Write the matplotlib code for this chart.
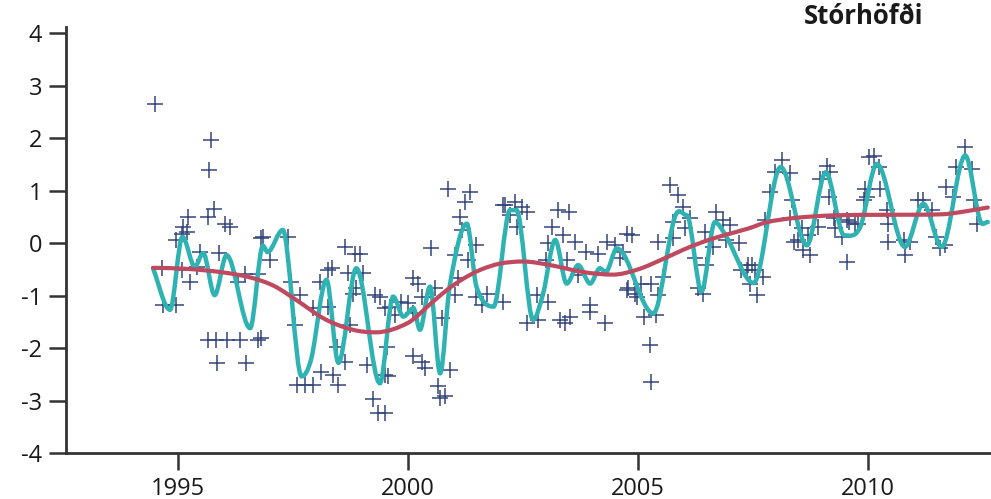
import matplotlib.pyplot as plt
import numpy as np
from matplotlib.path import Path
from matplotlib.patches import PathPatch

# monthly anomalies (+ markers)
ar = [1994.50, 1994.65, 1994.68, 1994.97, 1994.97, 1995.08, 1995.08, 1995.12, 1995.19, 1995.22,
      1995.26, 1995.41, 1995.48, 1995.66, 1995.66, 1995.67, 1995.73, 1995.78, 1995.84, 1995.85,
      1995.90, 1996.02, 1996.06, 1996.13, 1996.31, 1996.35, 1996.46, 1996.49, 1996.75, 1996.75,
      1996.81, 1996.81, 1996.85, 1997.00, 1997.40, 1997.47, 1997.54, 1997.58, 1997.65, 1997.76,
      1997.94, 1997.94, 1998.09, 1998.12, 1998.27, 1998.27, 1998.34, 1998.38, 1998.45, 1998.49,
      1998.63, 1998.63, 1998.70, 1998.74, 1998.81, 1998.85, 1998.88, 1998.96, 1999.03, 1999.10,
      1999.24, 1999.28, 1999.35, 1999.39, 1999.50, 1999.50, 1999.50, 1999.54, 1999.57, 1999.61,
      1999.72, 1999.86, 2000.01, 2000.12, 2000.12, 2000.12, 2000.22, 2000.30, 2000.30, 2000.37,
      2000.51, 2000.59, 2000.66, 2000.70, 2000.73, 2000.80, 2000.88, 2000.91, 2001.02, 2001.02,
      2001.09, 2001.13, 2001.17, 2001.24, 2001.31, 2001.35, 2001.49, 2001.49, 2001.60, 2001.71,
      2002.07, 2002.07, 2002.11, 2002.22, 2002.33, 2002.36, 2002.47, 2002.58, 2002.58, 2002.80,
      2002.83, 2003.01, 2003.05, 2003.05, 2003.12, 2003.27, 2003.30, 2003.38, 2003.41, 2003.45,
      2003.49, 2003.52, 2003.63, 2003.70, 2003.88, 2003.96, 2003.96, 2004.14, 2004.28, 2004.32,
      2004.50, 2004.61, 2004.68, 2004.75, 2004.75, 2004.79, 2004.86, 2004.93, 2004.97, 2005.07,
      2005.14, 2005.26, 2005.29, 2005.29, 2005.40, 2005.44, 2005.44, 2005.54, 2005.69, 2005.76,
      2005.76, 2005.87, 2005.98, 2006.02, 2006.12, 2006.23, 2006.30, 2006.41, 2006.45, 2006.48,
      2006.63, 2006.70, 2006.85, 2006.92, 2007.00, 2007.20, 2007.24, 2007.36, 2007.39, 2007.43,
      2007.47, 2007.54, 2007.58, 2007.72, 2007.76, 2007.87, 2007.98, 2008.12, 2008.30, 2008.30,
      2008.34, 2008.38, 2008.48, 2008.56, 2008.59, 2008.70, 2008.74, 2008.92, 2008.96, 2009.10,
      2009.14, 2009.17, 2009.25, 2009.28, 2009.43, 2009.54, 2009.54, 2009.58, 2009.72, 2009.77,
      2009.90, 2009.93, 2009.97, 2010.01, 2010.12, 2010.23, 2010.26, 2010.41, 2010.44, 2010.44,
      2010.77, 2010.80, 2010.91, 2011.09, 2011.20, 2011.38, 2011.48, 2011.56, 2011.67, 2011.70,
      2011.85, 2011.92, 2012.11, 2012.25, 2012.29, 2012.36]
frávik = [2.66, -0.48, -1.18, 0.06, -1.18, 0.18, -0.51, 0.31, 0.22, 0.50,
          -0.74, -0.45, -0.17, 0.50, -1.84, 1.39, 1.97, 0.66, -1.84, -2.29,
          -0.18, 0.37, -1.84, 0.31, -0.74, -1.84, -0.58, -2.29, -0.58, -1.84,
          0.09, -1.81, 0.12, -0.32, 0.12, -0.74, -1.56, -2.70, -0.99, -2.70,
          -1.24, -2.70, -0.74, -2.45, -0.51, -1.21, -0.48, -2.51, -1.97, -2.70,
          -0.07, -2.26, -0.56, -1.56, -0.96, -0.20, -0.86, -0.20, -0.56, -2.32,
          -2.98, -0.99, -3.24, -1.02, -1.24, -3.24, -2.51, -1.97, -2.54, -1.21,
          -1.37, -1.12, -1.15, -1.34, -0.67, -2.16, -0.77, -1.02, -2.26, -2.38,
          -0.10, -0.86, -2.73, -2.95, -1.43, -2.92, 1.04, -2.41, -0.99, -0.23,
          -0.67, 0.50, 0.25, 0.79, -0.32, 0.98, -0.04, -1.02, -1.18, -0.96,
          -1.12, 0.72, 0.72, 0.53, 0.79, 0.31, 0.69, 0.60, -1.53, -0.99,
          -1.46, -0.32, -1.12, 0.00, 0.31, 0.63, -1.46, 0.15, -1.53, -0.32,
          0.60, -1.40, 0.02, -0.61, -0.17, -1.18, -1.31, -0.20, -1.53, 0.02,
          -0.04, -0.29, -0.17, 0.18, -0.89, -0.86, 0.15, -0.96, -1.02, -0.77,
          -1.40, -1.94, -0.77, -2.64, -1.37, -0.99, 0.02, -0.64, 1.10, 0.41,
          0.09, 0.91, 0.69, 0.28, 0.47, -0.29, -0.86, -0.96, 0.21, -0.42,
          -0.07, 0.60, 0.44, 0.06, 0.34, 0.00, -0.51, -0.51, -0.42, -0.77,
          -0.42, -0.51, -0.99, -0.64, 0.44, 0.98, 1.36, 1.58, 1.33, 0.47,
          0.82, 0.02, 0.06, 0.28, -0.13, 0.15, -0.23, 0.31, 1.23, 1.48,
          0.88, 1.36, 0.47, 0.28, 0.12, 0.44, -0.36, 0.41, 0.37, 0.37,
          0.82, 1.04, 0.88, 1.64, 1.67, 1.45, 1.04, 0.63, 0.37, 0.02,
          0.06, -0.23, 0.02, 0.82, 0.82, 0.63, 0.12, -0.10, -0.04, 1.07,
          0.88, 1.45, 1.83, 1.42, 0.82, 0.37]

# smoothed curve (teal) - turning points
ar_slétt = [1994.46, 1994.83, 1995.10, 1995.37, 1995.55, 1995.80, 1996.06, 1996.57, 1996.85, 1996.95,
            1997.28, 1997.69, 1997.90, 1998.23, 1998.49, 1998.88, 1999.39, 1999.68, 1999.90, 2000.12,
            2000.26, 2000.48, 2000.70, 2000.91, 2001.28, 2001.49, 2001.86, 2002.22, 2002.36, 2002.72,
            2002.94, 2003.20, 2003.45, 2003.70, 2003.96, 2004.17, 2004.30, 2004.54, 2005.33, 2005.80,
            2006.06, 2006.38, 2006.67, 2006.92, 2007.51, 2008.10, 2008.67, 2009.08, 2009.48, 2009.83,
            2010.19, 2010.80, 2011.20, 2011.60, 2012.11, 2012.43, 2012.60]
gildi_slétt = [-0.48, -1.27, 0.12, -0.45, -0.19, -0.99, -0.23, -1.62, -0.05, -0.17,
               0.25, -2.54, -2.20, -0.70, -2.28, -0.48, -2.67, -1.02, -1.40, -1.24,
               -1.65, -0.83, -2.48, -0.80, 0.37, -0.83, -1.21, 0.63, 0.63, -1.46,
               -0.95, 0.06, -0.77, -0.42, -0.77, -0.48, -0.55, -0.10, -1.34, 0.50,
               0.53, -0.92, 0.40, 0.12, -0.76, 1.45, -0.04, 1.35, 0.15, 0.31,
               1.51, -0.07, 0.75, -0.07, 1.67, 0.44, 0.40]

# trend (red)
ar_leitni = [1994.46, 1995.2, 1996.0, 1996.6, 1997.1, 1997.6, 1998.2, 1998.8, 1999.3,
             2000.0, 2000.5, 2000.85, 2001.2, 2001.57, 2002.0, 2002.5, 2003.1, 2003.8, 2004.45,
             2005.0, 2005.6, 2006.0, 2006.4, 2006.75, 2007.4, 2007.8, 2008.4, 2009.25,
             2010.3, 2011.6, 2012.0, 2012.6]
gildi_leitni = [-0.47, -0.49, -0.56, -0.66, -0.82, -1.10, -1.45, -1.65, -1.70,
                -1.52, -1.15, -0.89, -0.68, -0.51, -0.39, -0.35, -0.42, -0.55, -0.60,
                -0.50, -0.28, -0.12, 0.02, 0.12, 0.28, 0.40, 0.48, 0.53,
                0.54, 0.55, 0.59, 0.68]

xticks = [1995, 2000, 2005, 2010]
yticks = [-4, -3, -2, -1, 0, 1, 2, 3, 4]


def mjuk_lina(ax, xs, ys, **kw):
    # draw a smooth curve through the points with cubic Bezier segments
    x = np.asarray(xs, float)
    y = np.asarray(ys, float)
    verts = [(x[0], y[0])]
    codes = [Path.MOVETO]
    n = len(x)
    for i in range(n - 1):
        x0, y0 = (x[i - 1], y[i - 1]) if i > 0 else (x[i], y[i])
        x3, y3 = (x[i + 2], y[i + 2]) if i + 2 < n else (x[i + 1], y[i + 1])
        x1, y1 = x[i], y[i]
        x2, y2 = x[i + 1], y[i + 1]
        dx = x2 - x1
        # tangents, kept flat at local turning points
        m1 = (y2 - y0) / (x2 - x0) if x2 != x0 else 0
        m2 = (y3 - y1) / (x3 - x1) if x3 != x1 else 0
        if i > 0 and (y1 - y0) * (y2 - y1) <= 0:
            m1 = 0
        if i + 2 < n and (y2 - y1) * (y3 - y2) <= 0:
            m2 = 0
        verts += [(x1 + dx / 3, y1 + m1 * dx / 3), (x2 - dx / 3, y2 - m2 * dx / 3), (x2, y2)]
        codes += [Path.CURVE4] * 3
    ax.add_patch(PathPatch(Path(verts, codes), fill=False, **kw))


plt.rcParams['font.family'] = ['Open Sans', 'DejaVu Sans']
plt.rcParams['axes.unicode_minus'] = False

fig = plt.figure(figsize=(9.91, 4.99), dpi=100)
ax = fig.add_axes([66 / 991, 1 - 453 / 499, 1 - 66 / 991, (453 - 27) / 499])

ax.plot(ar, frávik, linestyle='none', marker='+', markersize=11, markeredgewidth=1.1,
        color='#34457a', zorder=2)
mjuk_lina(ax, ar_slétt, gildi_slétt, edgecolor='#2fb2b2', linewidth=3.2, capstyle='round', zorder=3)
mjuk_lina(ax, ar_leitni, gildi_leitni, edgecolor='#bf4a5f', linewidth=3, capstyle='round', zorder=4)

ax.set_xlim(1992.57, 2012.67)
ax.set_ylim(-4, 4.12)
ax.set_xticks(xticks)
ax.set_yticks(yticks)
ax.tick_params(axis='both', labelsize=17, length=12, width=1.8, color='#333333',
               labelcolor='#1a1a1a', pad=5)

for s in ['top', 'right']:
    ax.spines[s].set_visible(False)
for s in ['left', 'bottom']:
    ax.spines[s].set_linewidth(2)
    ax.spines[s].set_color('#333333')

fig.text(864 / 991, 1 - 17 / 499, 'Stórhöfði', ha='center', va='center',
         fontsize=18.5, fontweight='bold', color='#1a1a1a')

fig.savefig('out.png', dpi=100)
